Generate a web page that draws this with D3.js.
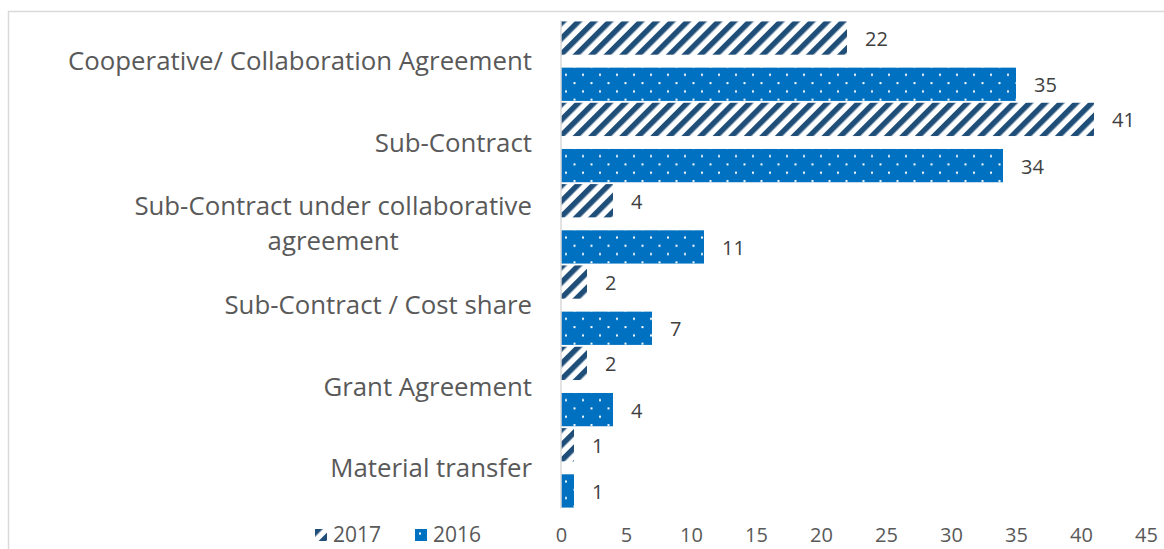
<!DOCTYPE html>
<html>
<head>
<meta charset="utf-8">
<script src="https://cdn.jsdelivr.net/npm/d3@7"></script>
<style>
  body { margin: 0; background: #fff; }
  text { font-family: "Open Sans", sans-serif; }
</style>
</head>
<body>
<svg id="chart" width="1164" height="549"></svg>
<script>
// chart data
const categories = [
    "Cooperative/ Collaboration Agreement",
    "Sub-Contract",
    "Sub-Contract under collaborative agreement",
    "Sub-Contract / Cost share",
    "Grant Agreement",
    "Material transfer"
];
const series = ["2017", "2016"];
const values2017 = [22, 41, 4, 2, 2, 1];
const values2016 = [35, 34, 11, 7, 4, 1];
const xTicks = [0, 5, 10, 15, 20, 25, 30, 35, 40, 45];

const svg = d3.select("#chart");

// patterns for the two series
const defs = svg.append("defs");
const hatch = defs.append("pattern")
    .attr("id", "hatch17")
    .attr("patternUnits", "userSpaceOnUse")
    .attr("width", 11).attr("height", 11)
    .attr("patternTransform", "rotate(45)");
hatch.append("rect").attr("width", 11).attr("height", 11).attr("fill", "#fff");
hatch.append("rect").attr("x", 0).attr("width", 5.5).attr("height", 11).attr("fill", "#1f4e79");

const dots = defs.append("pattern")
    .attr("id", "dots16")
    .attr("patternUnits", "userSpaceOnUse")
    .attr("width", 17).attr("height", 16.6)
    .attr("x", 561).attr("y", 0);
dots.append("rect").attr("width", 17).attr("height", 16.6).attr("fill", "#0070c0");
dots.append("rect").attr("x", 4).attr("y", 3.5).attr("width", 2).attr("height", 2).attr("fill", "#fff");
dots.append("rect").attr("x", 12.5).attr("y", 11.8).attr("width", 2).attr("height", 2).attr("fill", "#fff");

const fills = { "2017": "url(#hatch17)", "2016": "url(#dots16)" };

// outer frame
svg.append("rect")
    .attr("x", 8.5).attr("y", 11.5)
    .attr("width", 1200).attr("height", 600)
    .attr("fill", "none").attr("stroke", "#d9d9d9").attr("stroke-width", 1.5);

const x = d3.scaleLinear().domain([0, 45]).range([561, 1146]);
const y = d3.scaleBand().domain(categories).range([20.5, 508.5]).padding(0);
const ySub = d3.scaleBand().domain(series).range([0, y.bandwidth()])
    .paddingInner(0.28).paddingOuter(0.02);

const rows = categories.map((c, i) => ({
    cat: c,
    bars: [
        { s: "2017", v: values2017[i] },
        { s: "2016", v: values2016[i] }
    ]
}));

const groups = svg.append("g").selectAll("g")
    .data(rows).join("g")
    .attr("transform", d => `translate(0,${y(d.cat)})`);

groups.selectAll("rect")
    .data(d => d.bars).join("rect")
    .attr("x", x(0))
    .attr("y", d => ySub(d.s))
    .attr("width", d => x(d.v) - x(0))
    .attr("height", ySub.bandwidth())
    .attr("fill", d => fills[d.s]);

groups.selectAll("text.val")
    .data(d => d.bars).join("text")
    .attr("class", "val")
    .attr("x", d => x(d.v) + 18)
    .attr("y", d => ySub(d.s) + ySub.bandwidth() / 2 + 1)
    .attr("dy", "0.35em")
    .attr("font-size", 20)
    .attr("fill", "#404040")
    .text(d => d.v);

// vertical axis line
svg.append("line")
    .attr("x1", x(0)).attr("x2", x(0))
    .attr("y1", y.range()[0]).attr("y2", y.range()[1])
    .attr("stroke", "#d9d9d9").attr("stroke-width", 1.5);

// category labels, wrapped lines centred in a block right-aligned at 532
const wrapped = {
    "Sub-Contract under collaborative agreement": ["Sub-Contract under collaborative", "agreement"]
};
const labelRight = 532;
categories.forEach(c => {
    const lines = wrapped[c] || [c];
    const cy = y(c) + y.bandwidth() / 2;
    const t = svg.append("text")
        .attr("font-size", 25.8)
        .attr("fill", "#595959")
        .attr("text-anchor", "middle");
    const lh = 35;
    lines.forEach((l, k) => {
        t.append("tspan")
            .attr("y", cy + (k - (lines.length - 1) / 2) * lh)
            .attr("dy", "0.35em")
            .text(l);
    });
    let w = 0;
    t.selectAll("tspan").each(function () { w = Math.max(w, this.getComputedTextLength()); });
    t.selectAll("tspan").attr("x", labelRight - w / 2);
});

// x axis tick labels
const xAxis = svg.append("g")
    .attr("transform", "translate(0,528)")
    .call(d3.axisBottom(x).tickValues(xTicks).tickSize(0).tickPadding(0));
xAxis.select(".domain").remove();
xAxis.selectAll("text")
    .attr("font-size", 20)
    .attr("font-family", "Open Sans, sans-serif")
    .attr("fill", "#595959")
    .attr("dy", "0.72em");

// legend
const legend = svg.append("g").attr("transform", "translate(315,529)");
const leg = legend.selectAll("g")
    .data(series).join("g")
    .attr("transform", (d, i) => `translate(${i * 100},0)`);
leg.append("rect")
    .attr("width", 12).attr("height", 12)
    .attr("fill", d => fills[d]);
leg.append("text")
    .attr("x", 18).attr("y", 6)
    .attr("dy", "0.35em")
    .attr("font-size", 21)
    .attr("fill", "#595959")
    .text(d => d);
</script>
</body>
</html>
